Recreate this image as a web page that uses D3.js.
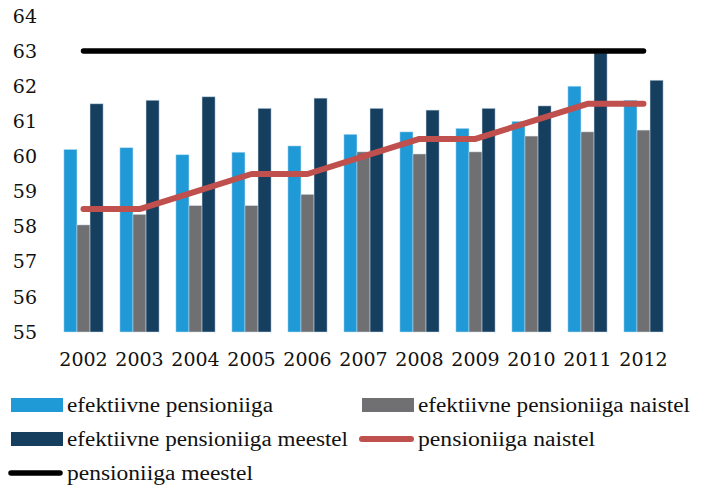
<!doctype html>
<html lang="et">
<head>
  <meta charset="utf-8">
  <title>Pensioniiga</title>
  <script src="https://d3js.org/d3.v7.min.js"></script>
  <style>
    body {
      margin: 0;
      background: #fff;
    }

    .tick-label {
      font-family: "DejaVu Serif", Georgia, serif;
      font-size: 19px;
      fill: #111;
    }

    .legend text {
      font-family: "Liberation Serif", Georgia, serif;
      font-size: 20px;
      fill: #111;
    }
  </style>
</head>
<body>
  <div id="chart"></div>
  <script>
    // chart data
    const years = ['2002', '2003', '2004', '2005', '2006', '2007', '2008', '2009', '2010', '2011', '2012'];
    const effective = [60.2, 60.25, 60.05, 60.12, 60.3, 60.63, 60.7, 60.8, 61.0, 62.0, 61.6];
    const effectiveWomen = [58.05, 58.35, 58.6, 58.6, 58.92, 60.13, 60.07, 60.13, 60.58, 60.7, 60.75];
    const effectiveMen = [61.5, 61.6, 61.7, 61.37, 61.66, 61.37, 61.32, 61.37, 61.44, 62.95, 62.17];
    const ageWomen = [58.5, 58.5, 59, 59.5, 59.5, 60, 60.5, 60.5, 61, 61.5, 61.5];
    const ageMen = [63, 63, 63, 63, 63, 63, 63, 63, 63, 63, 63];
    const yTicks = [55, 56, 57, 58, 59, 60, 61, 62, 63, 64];

    const barSeries = [
      { key: 'eff', label: 'efektiivne pensioniiga', values: effective, color: '#1f9ad6' },
      { key: 'effW', label: 'efektiivne pensioniiga naistel', values: effectiveWomen, color: '#707072' },
      { key: 'effM', label: 'efektiivne pensioniiga meestel', values: effectiveMen, color: '#163e5e' }
    ];
    const lineSeries = [
      { key: 'ageW', label: 'pensioniiga naistel', values: ageWomen, color: '#c0504d', width: 6 },
      { key: 'ageM', label: 'pensioniiga meestel', values: ageMen, color: '#000000', width: 5.5 }
    ];

    const width = 707;
    const height = 487;

    const svg = d3.select('#chart')
      .append('svg')
      .attr('width', width)
      .attr('height', height);

    // scales
    const x = d3.scaleBand()
      .domain(years)
      .range([55.5, 671.5])
      .paddingInner(0.3)
      .paddingOuter(0.15);

    const xInner = d3.scaleBand()
      .domain(barSeries.map(s => s.key))
      .range([0, x.bandwidth()]);

    const y = d3.scaleLinear()
      .domain([55, 64])
      .range([332, 16]);

    // y tick labels (no axis line in the original)
    svg.append('g')
      .selectAll('text')
      .data(yTicks)
      .join('text')
      .attr('class', 'tick-label')
      .attr('x', 37)
      .attr('y', d => y(d))
      .attr('dy', '0.35em')
      .attr('text-anchor', 'end')
      .text(d => d);

    // x tick labels
    svg.append('g')
      .selectAll('text')
      .data(years)
      .join('text')
      .attr('class', 'tick-label')
      .attr('x', d => x(d) + x.bandwidth() / 2)
      .attr('y', 366)
      .attr('text-anchor', 'middle')
      .text(d => d);

    // grouped bars
    const groups = svg.append('g')
      .selectAll('g')
      .data(years)
      .join('g')
      .attr('transform', d => `translate(${x(d)},0)`);

    groups.selectAll('rect')
      .data((d, i) => barSeries.map(s => ({ key: s.key, value: s.values[i], color: s.color })))
      .join('rect')
      .attr('x', d => xInner(d.key))
      .attr('y', d => y(d.value))
      .attr('width', xInner.bandwidth())
      .attr('height', d => y(55) - y(d.value))
      .attr('fill', d => d.color)
      .attr('stroke', '#cfe3f0')
      .attr('stroke-opacity', 0.6)
      .attr('stroke-width', 0.8);

    // lines through group centres
    const line = d3.line()
      .x((d, i) => x(years[i]) + x.bandwidth() / 2)
      .y(d => y(d));

    svg.append('g')
      .selectAll('path')
      .data(lineSeries)
      .join('path')
      .attr('d', d => line(d.values))
      .attr('fill', 'none')
      .attr('stroke', d => d.color)
      .attr('stroke-width', d => d.width)
      .attr('stroke-linecap', 'round')
      .attr('stroke-linejoin', 'round');

    // legend: two columns, three rows
    const legendItems = [
      { type: 'bar', s: barSeries[0], col: 0, row: 0, textW: 206 },
      { type: 'bar', s: barSeries[1], col: 1, row: 0, textW: 272 },
      { type: 'bar', s: barSeries[2], col: 0, row: 1, textW: 281 },
      { type: 'line', s: lineSeries[0], col: 1, row: 1, textW: 177 },
      { type: 'line', s: lineSeries[1], col: 0, row: 2, textW: 186 }
    ];
    const colX = [11, 362];
    const rowY = [405, 439, 473];

    const legend = svg.append('g')
      .attr('class', 'legend')
      .selectAll('g')
      .data(legendItems)
      .join('g')
      .attr('transform', d => `translate(${colX[d.col]},${rowY[d.row]})`);

    legend.filter(d => d.type === 'bar')
      .append('rect')
      .attr('x', 0)
      .attr('y', -7)
      .attr('width', 52)
      .attr('height', 14)
      .attr('fill', d => d.s.color);

    legend.filter(d => d.type === 'line')
      .append('line')
      .attr('x1', d => d.row === 2 ? 0 : 0)
      .attr('x2', 49)
      .attr('y1', 0)
      .attr('y2', 0)
      .attr('stroke', d => d.s.color)
      .attr('stroke-width', d => d.s.width)
      .attr('stroke-linecap', 'round');

    legend.append('text')
      .attr('x', 56)
      .attr('y', 7)
      .attr('textLength', d => d.textW)
      .attr('lengthAdjust', 'spacingAndGlyphs')
      .text(d => d.s.label);
  </script>
</body>
</html>
